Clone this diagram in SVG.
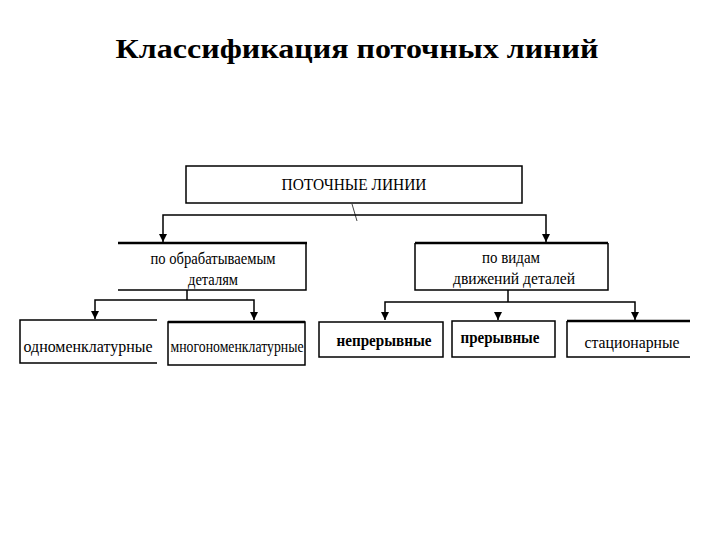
<svg xmlns="http://www.w3.org/2000/svg" width="720" height="540" viewBox="0 0 720 540">
<style>
.ln{stroke:#000;stroke-width:1.5;fill:none}
.thk{stroke:#000;stroke-width:2.6;fill:none}
.t{font-family:"Liberation Serif","Times New Roman",serif;font-size:16px;fill:#000;text-anchor:middle}
.b{font-weight:bold;font-size:16px}
.title{font-family:"Liberation Serif","Times New Roman",serif;font-size:28px;font-weight:bold;fill:#000;text-anchor:middle}
</style>
<defs>
<marker id="ad" markerUnits="userSpaceOnUse" markerWidth="9" markerHeight="10" refX="4" refY="9" orient="0" viewBox="0 0 8 10">
<path d="M0,1 L8,1 L4,9 Z" fill="#000"/>
</marker>
</defs>
<rect width="720" height="540" fill="#fff"/>
<text class="title" x="357" y="58" textLength="483" lengthAdjust="spacingAndGlyphs">Классификация поточных линий</text>

<g id="connectors">
<line x1="352" y1="204" x2="357" y2="221" stroke="#444" stroke-width="1"/>
<polyline class="ln" points="163,242 163,215 546,215 546,242" marker-start="url(#ad)" marker-end="url(#ad)"/>
<line class="ln" x1="187" y1="290" x2="187" y2="300"/>
<polyline class="ln" points="95,319 95,300 254,300 254,320" marker-start="url(#ad)" marker-end="url(#ad)"/>
<line class="ln" x1="508" y1="290" x2="508" y2="302"/>
<polyline class="ln" points="385,320 385,302 635,302 635,320" marker-start="url(#ad)" marker-end="url(#ad)"/>
<line class="ln" x1="498" y1="313" x2="498" y2="320" marker-end="url(#ad)"/>
</g>

<g id="n-root">
<rect class="ln" x="186" y="166" width="336" height="37"/>
<text class="t" x="354" y="190" textLength="145" lengthAdjust="spacingAndGlyphs">ПОТОЧНЫЕ ЛИНИИ</text>
</g>

<g id="n-parts">
<line class="thk" x1="118" y1="243" x2="307" y2="243"/>
<polyline class="ln" points="306,243 306,290 118,290"/>
<text class="t" x="213" y="264" textLength="125" lengthAdjust="spacingAndGlyphs">по обрабатываемым</text>
<text class="t" x="213" y="285" textLength="50" lengthAdjust="spacingAndGlyphs">деталям</text>
</g>

<g id="n-motion">
<line class="thk" x1="415" y1="243" x2="608" y2="243"/>
<polyline class="ln" points="415,243 415,290 608,290 608,243"/>
<text class="t" x="511" y="263" textLength="58" lengthAdjust="spacingAndGlyphs">по видам</text>
<text class="t" x="514" y="284" textLength="122" lengthAdjust="spacingAndGlyphs">движений деталей</text>
</g>

<g id="n-single">
<polyline class="ln" points="157,320 20,320 20,363 157,363"/>
<text class="t" x="88" y="352" textLength="129" lengthAdjust="spacingAndGlyphs">одноменклатурные</text>
</g>

<g id="n-multi">
<rect class="ln" x="168" y="322" width="137" height="43"/>
<line class="thk" x1="168" y1="322" x2="305" y2="322"/>
<text class="t" x="237" y="352" textLength="133" lengthAdjust="spacingAndGlyphs">многономенклатурные</text>
</g>

<g id="n-cont">
<rect class="ln" x="319" y="322" width="124" height="35"/>
<text class="t b" x="384" y="346" textLength="95" lengthAdjust="spacingAndGlyphs">непрерывные</text>
</g>

<g id="n-disc">
<rect class="ln" x="452" y="321" width="103" height="36"/>
<text class="t b" x="500" y="343" textLength="79" lengthAdjust="spacingAndGlyphs">прерывные</text>
</g>

<g id="n-stat">
<line class="thk" x1="567" y1="321" x2="690" y2="321"/>
<polyline class="ln" points="567,321 567,357 690,357"/>
<text class="t" x="632" y="348" textLength="95" lengthAdjust="spacingAndGlyphs">стационарные</text>
</g>
</svg>
